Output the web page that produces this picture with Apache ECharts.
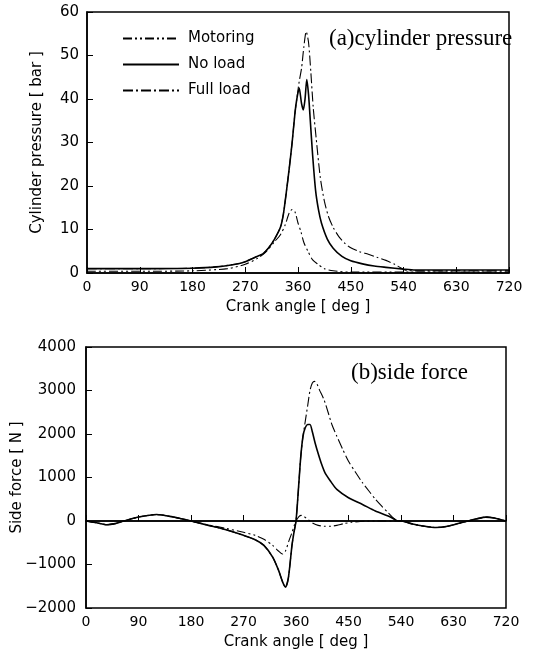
<!DOCTYPE html>
<html lang="en">
<head>
<meta charset="utf-8">
<script src="https://cdn.jsdelivr.net/npm/echarts@6/dist/echarts.min.js"></script>
</head>
<body style="margin:0;background:#fff">
<div id="main" style="width:542px;height:663px"></div>
<script type="text/javascript">
var myChart = echarts.init(document.getElementById("main"));

// (a) cylinder pressure [bar]
var motAngleA = [0, 90, 180, 240, 270, 290, 305, 320, 330, 338, 345, 350, 355, 360, 365, 370, 377, 385, 394, 405, 420, 450, 540, 720];
var motPress  = [0.4, 0.4, 0.5, 1.0, 2.0, 3.3, 4.8, 7.2, 8.8, 11, 13.8, 14.6, 14, 11.5, 9.5, 7, 5, 3, 2, 1, 0.5, 0.2, 0.2, 0.2];

var noAngleA = [0, 90, 180, 220, 260, 270, 290, 300, 310, 320, 330, 335, 340, 345, 350, 355, 358, 362, 366, 369, 372, 375, 378, 381, 385, 390, 395, 400, 410, 420, 435, 450, 470, 490, 510, 540, 560, 630, 720];
var noPress  = [1.0, 1.0, 1.1, 1.4, 2.2, 2.6, 3.8, 4.4, 5.8, 7.8, 10.5, 13.5, 18.5, 24, 30, 37, 40, 42.5, 39, 37.5, 40, 44.5, 41, 35, 27, 19, 14.5, 11.5, 7.8, 5.7, 3.8, 2.8, 2.1, 1.6, 1.3, 0.9, 0.7, 0.7, 0.7];

var fullAngleA = [0, 90, 180, 220, 260, 270, 290, 300, 310, 320, 330, 335, 340, 345, 350, 355, 358, 362, 366, 370, 374, 378, 382, 386, 391, 398, 405, 412, 420, 430, 440, 450, 465, 480, 495, 510, 525, 535, 545, 560, 630, 720];
var fullPress  = [1.0, 1.0, 1.1, 1.4, 2.2, 2.6, 3.8, 4.4, 5.8, 7.8, 10.5, 13.5, 18.5, 24, 30, 37, 40, 44, 47, 52, 55.5, 53, 46, 38, 31, 22, 16.5, 13, 10.5, 8.3, 6.8, 5.8, 4.9, 4.3, 3.6, 2.9, 2.0, 1.2, 0.6, 0.5, 0.5, 0.5];

// (b) side force [N]
var motAngleB = [0, 18, 36, 50, 65, 90, 121, 150, 180, 210, 240, 270, 290, 305, 320, 330, 337, 342, 348, 353, 357, 360, 365, 369, 374, 378, 384, 389, 398, 408, 420, 430, 442, 455, 470, 500, 540, 560, 580, 600, 620, 640, 655, 670, 685, 700, 720];
var motForce  = [0, -40, -85, -60, 0, 90, 150, 90, 0, -90, -170, -260, -330, -420, -560, -690, -760, -690, -450, -270, -100, 0, 100, 130, 100, 60, 0, -50, -100, -120, -120, -100, -60, -30, -10, 0, 0, -70, -120, -150, -120, -50, 0, 50, 90, 70, 0];

var noAngleB = [0, 18, 36, 50, 65, 90, 121, 150, 180, 210, 240, 270, 290, 305, 320, 330, 337, 342, 347, 353, 356, 360, 364, 368, 372, 376, 380, 384, 388, 393, 398, 403, 410, 420, 430, 450, 474, 496, 518, 529, 535, 540, 560, 580, 600, 620, 640, 655, 670, 685, 700, 720];
var noForce  = [0, -40, -85, -60, 0, 90, 150, 90, 0, -100, -200, -330, -430, -560, -830, -1130, -1400, -1520, -1300, -570, -300, 0, 700, 1450, 1950, 2150, 2220, 2220, 2050, 1780, 1550, 1340, 1100, 900, 726, 535, 380, 230, 115, 40, 0, 0, -70, -120, -150, -120, -50, 0, 50, 90, 70, 0];

var fullAngleB = [0, 18, 36, 50, 65, 90, 121, 150, 180, 210, 240, 270, 290, 305, 320, 330, 337, 342, 347, 353, 356, 360, 364, 368, 372, 376, 380, 384, 388, 392, 396, 400, 408, 415, 422, 430, 440, 450, 462, 474, 485, 496, 507, 518, 529, 535, 540, 560, 580, 600, 620, 640, 655, 670, 685, 700, 720];
var fullForce  = [0, -40, -85, -60, 0, 90, 150, 90, 0, -100, -200, -330, -430, -560, -830, -1130, -1400, -1520, -1300, -570, -300, 0, 700, 1450, 1950, 2300, 2650, 3000, 3170, 3210, 3150, 3020, 2790, 2500, 2200, 1950, 1650, 1376, 1120, 880, 690, 500, 340, 190, 40, 0, 0, -70, -120, -150, -120, -50, 0, 50, 90, 70, 0];

function pairs(xs, ys) {
    var out = [];
    for (var i = 0; i < xs.length; i++) out.push([xs[i], ys[i]]);
    return out;
}

var sans = 'DejaVu Sans';
var xLbl = {color: '#000', fontFamily: sans, fontSize: 14};
var yLbl = {color: '#000', fontFamily: sans, fontSize: 15};
var nameStyle = {color: '#000', fontFamily: sans, fontSize: 15};
var serif = {fontFamily: 'Liberation Serif', fontSize: 23, fontWeight: 'normal', color: '#000'};

function xAx(idx) {
    return {
        type: 'value', gridIndex: idx, min: 0, max: 720, interval: 90,
        name: 'Crank angle [ deg ]', nameLocation: 'middle', nameGap: 27,
        nameMoveOverlap: false,
        nameTextStyle: nameStyle,
        axisLine: {show: true, lineStyle: {color: '#000', width: 1.5}},
        axisTick: {show: true, inside: true, length: 6, lineStyle: {color: '#000'}},
        axisLabel: {show: true, margin: 7, textStyle: xLbl},
        splitLine: {show: false}
    };
}

var motStyle = {color: '#000', width: 1.1, type: [9, 3, 2, 3, 2, 3]};
var noStyle = {color: '#000', width: 1.6, type: 'solid'};
var fullStyle = {color: '#000', width: 1.1, type: [10, 3, 2, 3]};

function ser(name, xi, data, ls) {
    return {
        name: name, type: 'line', xAxisIndex: xi, yAxisIndex: xi,
        data: data, symbol: 'none', showSymbol: false, smooth: 0.25,
        lineStyle: ls, itemStyle: {color: '#000'}, animation: false
    };
}

var option = {
    backgroundColor: '#fff',
    animation: false,
    title: [
        {text: '(a)cylinder pressure', left: 324, top: 22, textStyle: serif},
        {text: '(b)side force', left: 346, top: 356, textStyle: serif}
    ],
    legend: {
        data: ['Motoring', 'No load', 'Full load'],
        orient: 'vertical', left: 117, top: 26, itemGap: 11,
        itemWidth: 56, itemHeight: 14,
        itemStyle: {opacity: 0},
        textStyle: {fontFamily: sans, fontSize: 15, color: '#000', padding: [0, 0, 0, 4]}
    },
    grid: [
        {left: 87, right: 33, top: 12, height: 261, show: true, borderColor: '#000', borderWidth: 1.5, outerBoundsMode: 'none'},
        {left: 86, right: 36, top: 347, height: 261, show: true, borderColor: '#000', borderWidth: 1.5, outerBoundsMode: 'none'}
    ],
    xAxis: [xAx(0), xAx(1)],
    yAxis: [
        {type: 'value', gridIndex: 0, min: 0, max: 60, interval: 10,
         name: 'Cylinder pressure [ bar ]', nameLocation: 'middle', nameGap: 42,
         nameMoveOverlap: false,
         nameTextStyle: nameStyle,
         axisLine: {show: true, lineStyle: {color: '#000', width: 1.5}},
         axisTick: {show: true, inside: true, length: 6, lineStyle: {color: '#000'}},
         axisLabel: {margin: 8, textStyle: yLbl},
         splitLine: {show: false}},
        {type: 'value', gridIndex: 1, min: -2000, max: 4000, interval: 1000,
         name: 'Side force [ N ]', nameLocation: 'middle', nameGap: 61,
         nameMoveOverlap: false,
         nameTextStyle: nameStyle,
         axisLine: {show: true, lineStyle: {color: '#000', width: 1.5}},
         axisTick: {show: true, inside: true, length: 6, lineStyle: {color: '#000'}},
         axisLabel: {margin: 10, textStyle: yLbl,
                     formatter: function (v) { return String(v).replace('-', '\u2212'); }},
         splitLine: {show: false}}
    ],
    series: [
        ser('Motoring', 0, pairs(motAngleA, motPress), motStyle),
        ser('No load', 0, pairs(noAngleA, noPress), noStyle),
        ser('Full load', 0, pairs(fullAngleA, fullPress), fullStyle),
        ser('Motoring', 1, pairs(motAngleB, motForce), motStyle),
        ser('No load', 1, pairs(noAngleB, noForce), noStyle),
        ser('Full load', 1, pairs(fullAngleB, fullForce), fullStyle)
    ]
};
// zero reference line in the side force panel
option.series[4].markLine = {
    silent: true, symbol: 'none', label: {show: false}, animation: false,
    lineStyle: {color: '#000', width: 1.5, type: 'solid'},
    data: [{yAxis: 0}]
};

myChart.setOption(option);
</script>
</body>
</html>
